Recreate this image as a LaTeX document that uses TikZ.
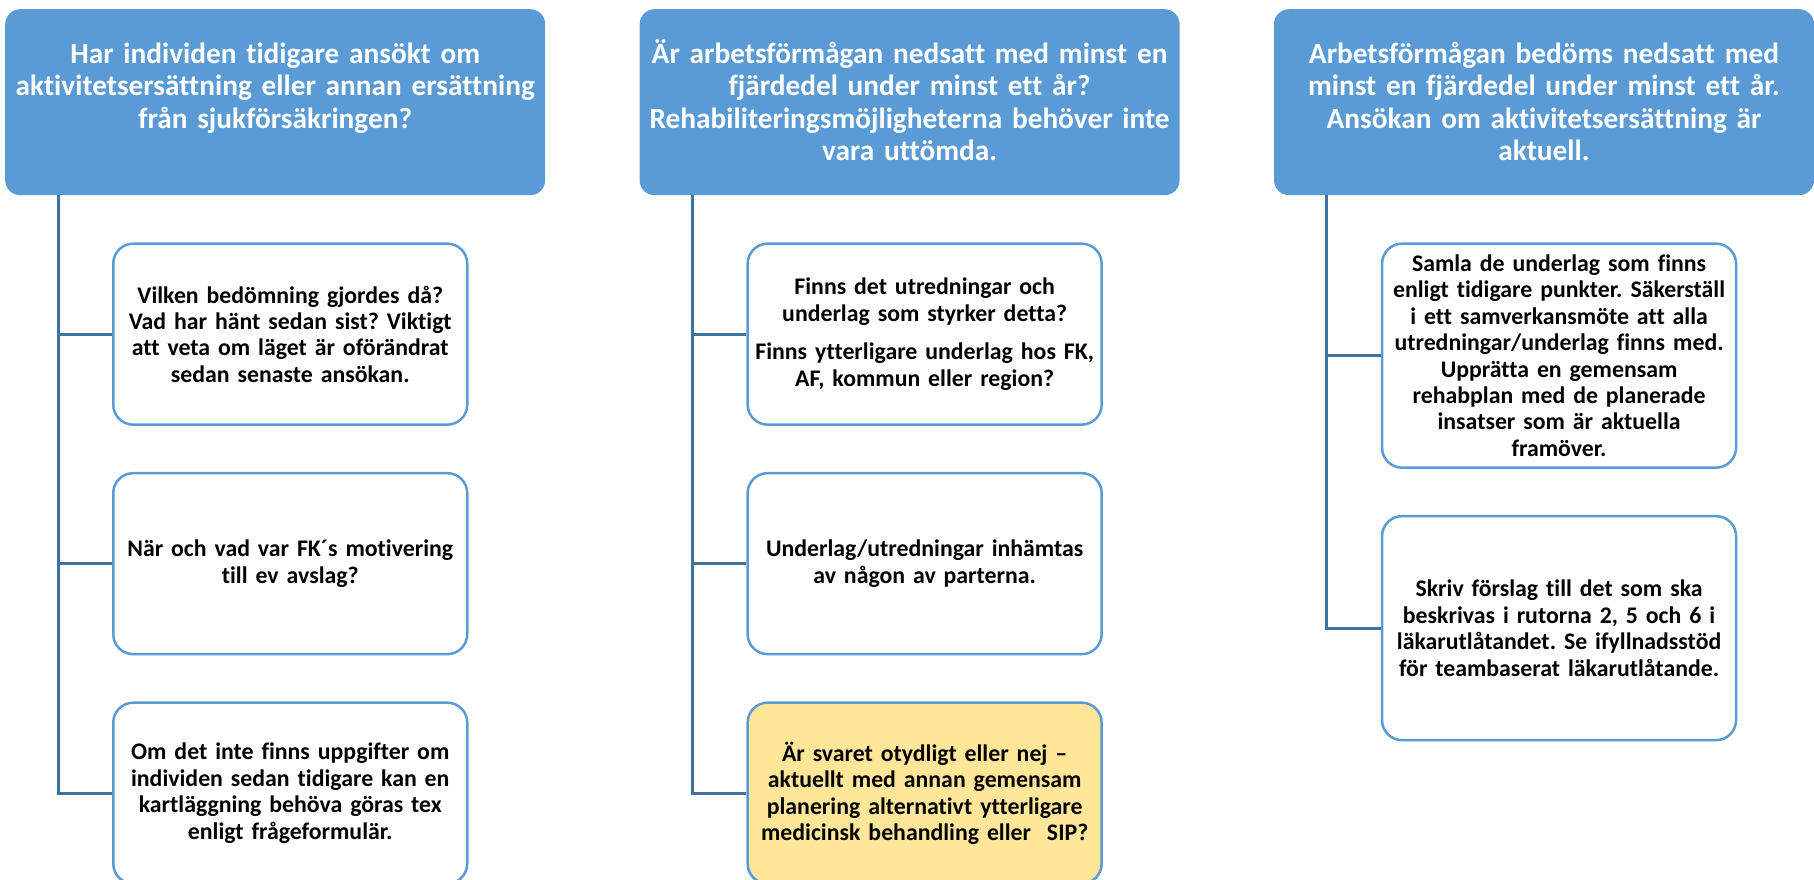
\documentclass[tikz,border=0pt]{standalone}
\usepackage{fontspec}
\setmainfont{Carlito}[Ligatures={CommonOff,ContextualOff}]
\frenchspacing
\setlength{\lineskiplimit}{-100pt}
\usetikzlibrary{positioning}
\definecolor{headblue}{RGB}{91,155,213}
\definecolor{linkblue}{RGB}{65,113,156}
\definecolor{noteyellow}{RGB}{255,230,153}

\begin{document}
\begin{tikzpicture}[x=1pt, y=-1pt,
						head/.style={rectangle, rounded corners=15pt, fill=headblue, text=white, font=\bfseries\fontsize{29.3}{32.5}\selectfont, align=center, text width=530pt, inner xsep=5pt, inner ysep=8pt, minimum width=540pt, text height=46pt, text depth=124pt},
						box/.style={rectangle, rounded corners=20pt, draw=headblue, line width=2.5pt, fill=white, font=\bfseries\fontsize{23.8}{26.4}\selectfont, align=center, text width=354pt, inner xsep=0pt, inner ysep=3pt, minimum width=354pt, minimum height=181pt},
						tall/.style={minimum height=224pt},
						link/.style={draw=linkblue, line width=3pt}
					]
					\useasboundingbox (0,0) rectangle (1814,879);
					\node[head, anchor=north west] (h1) at (5,9) {Har individen tidigare ansökt om\\aktivitetsersättning eller annan ersättning\\från sjukförsäkringen?};
					\node[head] (h2) [right=94pt of h1] {Är arbetsförmågan nedsatt med minst en\\fjärdedel under minst ett år?\\Rehabiliteringsmöjligheterna behöver inte\\vara uttömda.};
					\node[head] (h3) [right=94pt of h2] {Arbetsförmågan bedöms nedsatt med\\minst en fjärdedel under minst ett år.\\Ansökan om aktivitetsersättning är\\aktuell.};
					\node[box] (c11) [below right=47pt and 107pt of h1.south west] {Vilken bedömning gjordes då?\\Vad har hänt sedan sist? Viktigt\\att veta om läget är oförändrat\\sedan senaste ansökan.};
					\node[box] (c12) [below=46pt of c11] {När och vad var FK´s motivering\\till ev avslag?};
					\node[box] (c13) [below=46pt of c12] {Om det inte finns uppgifter om\\individen sedan tidigare kan en\\kartläggning behöva göras tex\\enligt frågeformulär.};
					\node[box] (c21) [below right=47pt and 107pt of h2.south west] {Finns det utredningar och\\underlag som styrker detta?\\[12pt]Finns ytterligare underlag hos FK,\\AF, kommun eller region?};
					\node[box] (c22) [below=46pt of c21] {Underlag/utredningar inhämtas\\av någon av parterna.};
					\node[box, fill=noteyellow] (c23) [below=46pt of c22] {Är svaret otydligt eller nej –\\aktuellt med annan gemensam\\planering alternativt ytterligare\\medicinsk behandling eller~ SIP?};
					\node[box, tall] (c31) [below right=47pt and 107pt of h3.south west] {Samla de underlag som finns\\enligt tidigare punkter. Säkerställ\\i ett samverkansmöte att alla\\utredningar/underlag finns med.\\Upprätta en gemensam\\rehabplan med de planerade\\insatser som är aktuella\\framöver.};
					\node[box, tall] (c32) [below=46pt of c31] {Skriv förslag till det som ska\\beskrivas i rutorna 2, 5 och 6 i\\läkarutlåtandet. Se ifyllnadsstöd\\för teambaserat läkarutlåtande.};
					\draw[link] ([xshift=53pt]h1.south west) |- (c11.west);
					\draw[link] ([xshift=53pt]h1.south west) |- (c12.west);
					\draw[link] ([xshift=53pt]h1.south west) |- (c13.west);
					\draw[link] ([xshift=53pt]h2.south west) |- (c21.west);
					\draw[link] ([xshift=53pt]h2.south west) |- (c22.west);
					\draw[link] ([xshift=53pt]h2.south west) |- (c23.west);
					\draw[link] ([xshift=53pt]h3.south west) |- (c31.west);
					\draw[link] ([xshift=53pt]h3.south west) |- (c32.west);
					\end{tikzpicture}
\end{document}
